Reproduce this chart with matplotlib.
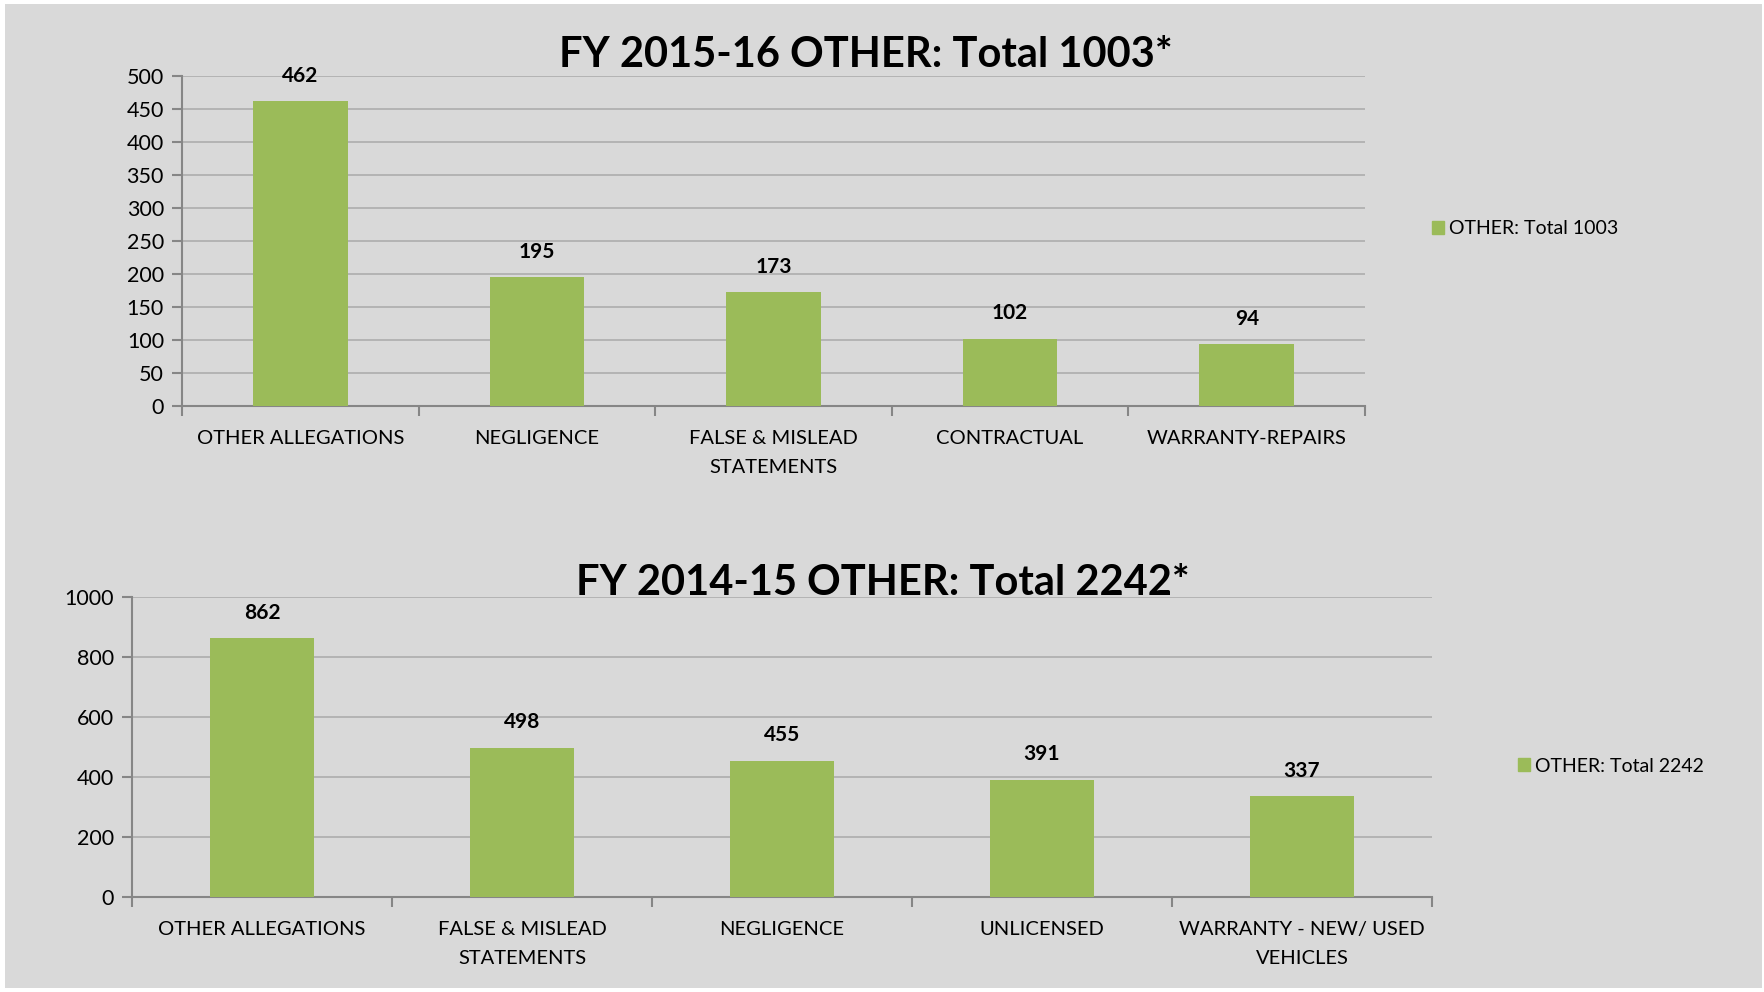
import matplotlib.pyplot as plt
from matplotlib.patches import Rectangle

# FY 2015-16
cats_1516 = ['OTHER ALLEGATIONS', 'NEGLIGENCE', 'FALSE & MISLEAD\nSTATEMENTS',
             'CONTRACTUAL', 'WARRANTY-REPAIRS']
vals_1516 = [462, 195, 173, 102, 94]
title_1516 = 'FY 2015-16 OTHER: Total 1003*'
legend_1516 = 'OTHER: Total 1003'

# FY 2014-15
cats_1415 = ['OTHER ALLEGATIONS', 'FALSE & MISLEAD\nSTATEMENTS', 'NEGLIGENCE',
             'UNLICENSED', 'WARRANTY - NEW/ USED\nVEHICLES']
vals_1415 = [862, 498, 455, 391, 337]
title_1415 = 'FY 2014-15 OTHER: Total 2242*'
legend_1415 = 'OTHER: Total 2242'

green = '#9BBB59'
bg = '#D9D9D9'
W, H = 1765, 992

plt.rcParams['font.family'] = ['Lato', 'DejaVu Sans']

fig = plt.figure(figsize=(W / 100, H / 100), dpi=100, facecolor='white')
fig.patches.append(Rectangle((5 / W, 4 / H), (1762 - 5) / W, (988 - 4) / H,
                             transform=fig.transFigure, facecolor=bg,
                             edgecolor='none', zorder=-10))


def px_axes(left, right, top, bottom):
    return fig.add_axes([left / W, 1 - bottom / H, (right - left) / W, (bottom - top) / H])


def draw(ax, cats, vals, ymax, step, title, title_xy, leg_text, leg_xy):
    x = range(len(cats))
    ax.set_facecolor('none')
    ax.bar(x, vals, width=0.4, color=green, zorder=3)
    for i, v in zip(x, vals):
        ax.annotate(str(v), (i, v), xytext=(0, 11), textcoords='offset points',
                    ha='center', va='bottom', fontsize=15, fontweight='bold')
    ax.set_xlim(-0.5, len(cats) - 0.5)
    ax.set_ylim(0, ymax)
    ax.set_yticks(range(0, ymax + 1, step))
    ax.grid(True, axis='y', color='#ADADAD', linewidth=1.2, zorder=0)
    for s in ['top', 'right']:
        ax.spines[s].set_visible(False)
    for s in ['left', 'bottom']:
        ax.spines[s].set_color('#868686')
        ax.spines[s].set_linewidth(1.5)
    ax.set_xticks([i + 0.5 for i in range(-1, len(cats))], minor=False)
    ax.set_xticklabels([])
    ax.set_xticks(list(x), minor=True)
    ax.set_xticklabels(cats, minor=True, fontsize=14.5, linespacing=1.85)
    ax.tick_params(axis='x', which='major', length=7, color='#868686', width=1.5)
    ax.tick_params(axis='x', which='minor', length=0, pad=17)
    ax.tick_params(axis='y', length=7, color='#868686', width=1.5,
                   labelsize=15.5, pad=6)
    fig.text(title_xy[0] / W, 1 - title_xy[1] / H, title, ha='center', va='center',
             fontsize=30, fontweight='bold')
    h = Rectangle((0, 0), 1, 1, color=green)
    ax.legend([h], [leg_text], loc='center left',
              bbox_to_anchor=(leg_xy[0] / W, 1 - leg_xy[1] / H),
              bbox_transform=fig.transFigure, frameon=False, fontsize=14,
              handlelength=0.6, handleheight=0.6, handletextpad=0.3,
              borderpad=0, borderaxespad=0)


ax1 = px_axes(182, 1365, 76, 406)
draw(ax1, cats_1516, vals_1516, 500, 50, title_1516, (866, 55), legend_1516, (1432, 229))

ax2 = px_axes(132, 1432, 597, 897)
draw(ax2, cats_1415, vals_1415, 1000, 200, title_1415, (883, 583), legend_1415, (1518, 766))

plt.savefig('out.png', dpi=100, facecolor='white')
